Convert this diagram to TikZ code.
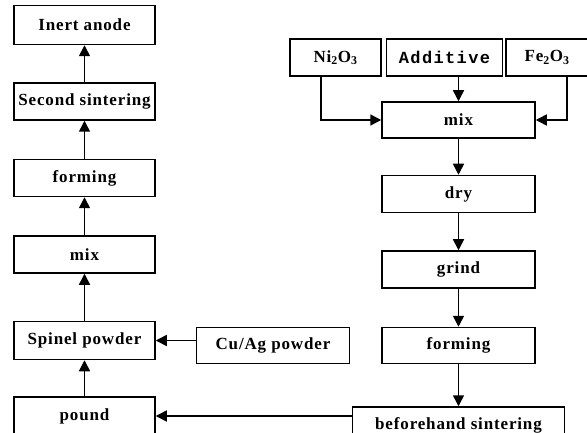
\documentclass[tikz,border=0pt]{standalone}
\usepackage{fontspec}
\setmainfont{Liberation Serif}[LetterSpace=5]
\newfontfamily\monofont{Liberation Mono}[LetterSpace=8]
\usetikzlibrary{
arrows.meta,
positioning,
calc
}

\tikzset{
  stage/.style={draw, line width=1.5pt, rectangle, minimum height=37pt, inner sep=0pt,
    font=\fontsize{17}{20}\selectfont\bfseries},
  leftstage/.style={stage, minimum width=141pt},
  rightstage/.style={stage, minimum width=153pt},
  flow/.style={line width=1.5pt, -{Triangle[length=11pt,width=11pt]}}
}

\begin{document}
\begin{tikzpicture}[x=1pt,y=1pt]
    \useasboundingbox (0,0) rectangle (587,-433);
    % left column, built upwards
    \node [leftstage, minimum height=38pt] (pound) at (84.5,-416) {pound};
    \node [leftstage, minimum height=38pt, above = 36pt of pound] (spinel) {Spinel powder};
    \node [leftstage, above = 47pt of spinel] (mixl) {mix};
    \node [leftstage, above = 38pt of mixl] (forml) {forming};
    \node [leftstage, above = 38pt of forml] (second) {Second sintering};
    \node [leftstage, minimum height=39pt, above = 37pt of second] (inert) {Inert anode};
    % right column, built downwards
    \node [rightstage, minimum height=36pt] (mixr) at (458.5,-120) {mix};
    \node [rightstage, below = 36pt of mixr] (dry) {dry};
    \node [rightstage, below = 37pt of dry] (grind) {grind};
    \node [rightstage, minimum height=36pt, below = 38pt of grind] (formr) {forming};
    \node [stage, minimum width=212pt, minimum height=36pt, below = 42pt of formr] (before) {beforehand sintering};
    \node [rightstage, minimum height=36pt, left = 31pt of formr] (cuag) {Cu/Ag powder};
    % raw materials
    \node [stage, minimum width=91pt] (nio) at (335.5,-57.5) {Ni\textsubscript{2}O\textsubscript{3}};
    \node [stage, minimum width=116pt, right = 4pt of nio, font=\fontsize{17}{20}\selectfont\monofont\bfseries] (additive) {Additive};
    \node [stage, minimum width=82pt, right = 2pt of additive] (feo) {Fe\textsubscript{2}O\textsubscript{3}};
    \draw[flow] ([xshift=-14.5pt]nio.south) |- (mixr.west);
    \draw[flow] (mixr.north |- additive.south) -- (mixr.north);
    \draw[flow] ([xshift=20pt]feo.south) |- (mixr.east);
    \draw[flow] (mixr) -- (dry);
    \draw[flow] (dry) -- (grind);
    \draw[flow] (grind) -- (formr);
    \draw[flow] (formr) -- (before);
    \draw[flow] (before.west |- pound.east) -- (pound.east);
    \draw[flow] (cuag.west |- spinel.east) -- (spinel.east);
    \draw[flow] (pound) -- (spinel);
    \draw[flow] (spinel) -- (mixl);
    \draw[flow] (mixl) -- (forml);
    \draw[flow] (forml) -- (second);
    \draw[flow] (second) -- (inert);
\end{tikzpicture}
\end{document}
